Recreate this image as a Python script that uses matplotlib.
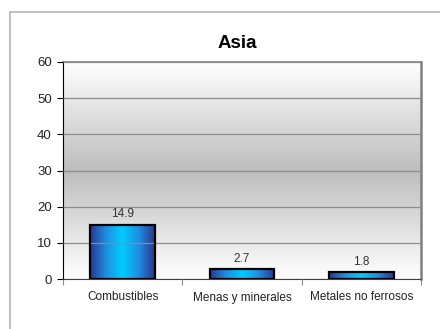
import matplotlib
matplotlib.use('Agg')
import matplotlib.pyplot as plt
import numpy as np
from matplotlib.colors import LinearSegmentedColormap
from matplotlib.lines import Line2D

categories = ['Combustibles', 'Menas y minerales', 'Metales no ferrosos']
values     = [14.9, 2.7, 1.8]
yticks     = [0, 10, 20, 30, 40, 50, 60]
title      = 'Asia'

plt.rcParams['font.family'] = ['Liberation Sans Narrow', 'Liberation Sans', 'DejaVu Sans']

fig = plt.figure(figsize=(4.4, 3.29), dpi=100)
ax  = fig.add_axes([63/440, 1-279/329, 358/440, 217/329])

# outer chart frame (only top/left edges visible in the crop)
fc = '#b4b4b4'
fig.add_artist(Line2D([10/440, 1], [1-12/329]*2, color=fc, lw=1.2, transform=fig.transFigure))
fig.add_artist(Line2D([10/440]*2, [0, 1-12/329], color=fc, lw=1.2, transform=fig.transFigure))

# plot-area background: white -> gray -> white
bg = LinearSegmentedColormap.from_list('bg', ['#ffffff', '#bdbdbd', '#ffffff'])
ax.imshow(np.linspace(0, 1, 256).reshape(-1, 1), cmap=bg, aspect='auto',
          extent=[0, 1, 0, 1], transform=ax.transAxes, zorder=0)

x = np.arange(len(categories))
ax.yaxis.grid(True, color='#8c8c8c', lw=0.9, zorder=1)
ax.set_axisbelow(False)

# bars with horizontal dark-blue / cyan / dark-blue gradient
barcm = LinearSegmentedColormap.from_list('bar', ['#2b3590', '#1f8fe0', '#00ccff', '#1f8fe0', '#2b3590'])
bars = ax.bar(x, values, width=0.54, facecolor='none', edgecolor='black', lw=1.6, zorder=3)
for b in bars:
    x0, y0, w, h = b.get_x(), b.get_y(), b.get_width(), b.get_height()
    im = ax.imshow(np.linspace(0, 1, 256).reshape(1, -1), cmap=barcm, aspect='auto',
                   extent=[x0, x0 + w, y0, y0 + h], zorder=2)
    im.set_clip_path(b)
for xi, v in zip(x, values):
    ax.text(xi, v + 1.3, f'{v}', ha='center', va='bottom', fontsize=8.5, color='#333333')

ax.set_xlim(-0.5, len(categories) - 0.5)
ax.set_ylim(yticks[0], yticks[-1])
ax.set_yticks(yticks)

# category separators as tick marks
ax.set_xticks(np.arange(len(categories) + 1) - 0.5, minor=False)
ax.set_xticklabels([])
ax.tick_params(axis='x', length=4, color='#8c8c8c', width=0.8)
ax.set_xticks(x, minor=True)
ax.set_xticklabels(categories, minor=True, fontsize=8.5, color='#222222')
ax.tick_params(axis='x', which='minor', length=0, pad=9)
ax.tick_params(axis='y', length=4, width=0.8, labelsize=9.5, pad=4, labelcolor='#222222')

ax.spines['left'].set_color('black')
ax.spines['bottom'].set_color('#404040')
ax.spines['top'].set_color('#808080')
ax.spines['right'].set_color('#808080')
ax.spines['right'].set_linewidth(1.8)
ax.spines['top'].set_linewidth(1.2)

fig.text(237/440, 1-43/329, title, ha='center', va='center', fontsize=13.5, fontweight='bold')

fig.savefig('out.png', dpi=100)
